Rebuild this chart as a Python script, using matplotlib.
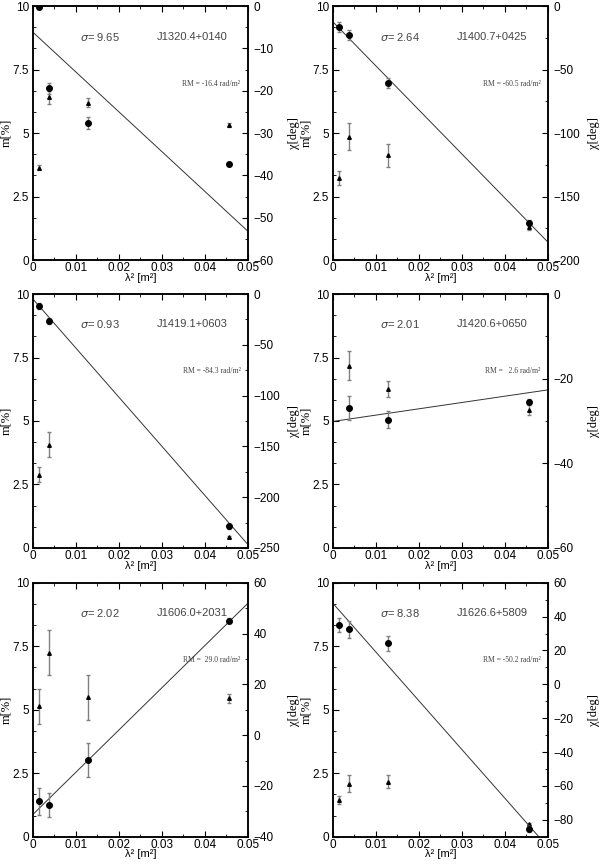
"""Polarisation fraction and angle versus lambda^2 for six sources."""

import matplotlib.pyplot as plt
import numpy as np
from matplotlib.ticker import MultipleLocator, FormatStrFormatter

# lambda^2 of the four bands [m^2]
lam2 = [0.0013, 0.0037, 0.0128, 0.0457]

names = ["J1320.4+0140", "J1400.7+0425", "J1419.1+0603",
         "J1420.6+0650", "J1606.0+2031", "J1626.6+5809"]
sigma = ["9.65", "2.64", "0.93", "2.01", "2.02", "8.38"]
rm = [-16.4, -60.5, -84.3, 2.6, 29.0, -50.2]          # rad/m^2
chi0 = [-6.2, -12.5, -5.0, -30.1, -31.2, 47.8]        # deg, fit intercept

# polarisation angle chi [deg] (circles) and errors
chi = [
    [-0.3, -19.4, -27.6, -37.4],
    [-16.3, -22.6, -60.9, -170.6],
    [-12.1, -26.2, np.nan, -228.7],
    [np.nan, -26.9, -29.7, -25.4],
    [-26.0, -27.6, -9.7, 45.0],
    [35.1, 32.5, 24.3, -85.5],
]
chi_err = [
    [0.5, 1.3, 1.5, 0.4],
    [4.0, 4.0, 4.0, 2.0],
    [3.0, 3.0, np.nan, 2.5],
    [np.nan, 2.9, 2.0, 0.5],
    [5.3, 4.7, 6.7, 1.0],
    [4.0, 5.0, 4.4, 2.0],
]

# polarisation fraction m [%] (triangles) and errors
m = [
    [3.63, 6.40, 6.19, 5.31],
    [3.22, 4.86, 4.13, 1.29],
    [2.89, 4.07, np.nan, 0.43],
    [np.nan, 7.18, 6.27, 5.42],
    [5.14, 7.25, 5.49, 5.45],
    [1.46, 2.09, 2.16, 0.50],
]
m_err = [
    [0.10, 0.25, 0.18, 0.08],
    [0.27, 0.54, 0.45, 0.10],
    [0.28, 0.50, np.nan, 0.05],
    [np.nan, 0.57, 0.31, 0.20],
    [0.69, 0.87, 0.88, 0.17],
    [0.16, 0.33, 0.26, 0.05],
]

chi_lims = [(-60, 0), (-200, 0), (-250, 0), (-60, 0), (-40, 60), (-90, 60)]
chi_major = [10, 50, 50, 20, 20, 20]

FONT = ["Liberation Sans", "DejaVu Sans"]
SERIF = ["Liberation Serif", "DejaVu Serif"]

fig = plt.figure(figsize=(6, 8.65), dpi=100)
lefts = [0.055, 0.555]
bottoms = [0.6994, 0.3665, 0.0327]
w, h = 0.358, 0.2936

for i in range(6):
    r, c = divmod(i, 2)
    ax = fig.add_axes([lefts[c], bottoms[r], w, h])
    ax2 = ax.twinx()

    ax.set_xlim(0, 0.05)
    ax.set_ylim(0, 10)
    ax2.set_ylim(*chi_lims[i])

    # fit line for chi(lambda^2)
    xx = np.array([0.0, 0.05])
    ax2.plot(xx, chi0[i] + np.degrees(rm[i]) * xx, color="#333333", lw=0.7)

    ax2.errorbar(lam2, chi[i], yerr=chi_err[i], fmt="o", color="black",
                 ms=4, ecolor="#808080", elinewidth=1.0, capsize=1.6,
                 capthick=1.0)
    ax.errorbar(lam2, m[i], yerr=m_err[i], fmt="^", color="black",
                ms=2.6, ecolor="#808080", elinewidth=1.0, capsize=1.6,
                capthick=1.0)

    ax.xaxis.set_major_locator(MultipleLocator(0.01))
    ax.xaxis.set_minor_locator(MultipleLocator(0.005))
    ax.xaxis.set_major_formatter(FormatStrFormatter("%g"))
    ax.yaxis.set_major_locator(MultipleLocator(2.5))
    ax.yaxis.set_minor_locator(MultipleLocator(2.5 / 3))
    ax.yaxis.set_major_formatter(FormatStrFormatter("%g"))
    ax2.yaxis.set_major_locator(MultipleLocator(chi_major[i]))
    ax2.yaxis.set_minor_locator(MultipleLocator(chi_major[i] / 2))

    ax.tick_params(which="both", direction="in", top=True, right=False,
                   labelsize=8.5)
    ax.tick_params(axis="x", pad=1.5)
    ax.tick_params(axis="y", pad=3)
    ax.tick_params(which="major", length=4)
    ax.tick_params(which="minor", length=2.5)
    ax2.tick_params(which="both", direction="in", labelsize=8.5, pad=4)
    ax2.tick_params(which="major", length=4)
    ax2.tick_params(which="minor", length=2.5)
    for lab in ax.get_xticklabels() + ax.get_yticklabels() + ax2.get_yticklabels():
        lab.set_family(FONT)

    for a in (ax, ax2):
        for sp in a.spines.values():
            sp.set_linewidth(1.1)

    ax.set_xlabel("λ² [m²]", family=FONT, fontsize=8)
    ax.xaxis.set_label_coords(0.5, -0.05)
    ax.set_ylabel("m[%]", family=SERIF, fontsize=9)
    ax.yaxis.set_label_coords(-0.095, 0.5)
    ax2.set_ylabel("χ[deg]", family=SERIF, fontsize=9, rotation=90)
    ax2.yaxis.set_label_coords(1.186, 0.5)

    ax.text(0.011, 8.8, f"$\\sigma$= {sigma[i]}", fontsize=8, color="#444444",
            family=FONT, va="center")
    ax.text(0.0287, 8.8, names[i], fontsize=8, color="#444444",
            family=FONT, va="center")
    ax.text(0.0483, 6.95, f"RM = {rm[i]:5.1f} rad/m²", fontsize=5.5,
            color="#444444", family=SERIF, va="center", ha="right")

fig.savefig("out.png", dpi=100)
